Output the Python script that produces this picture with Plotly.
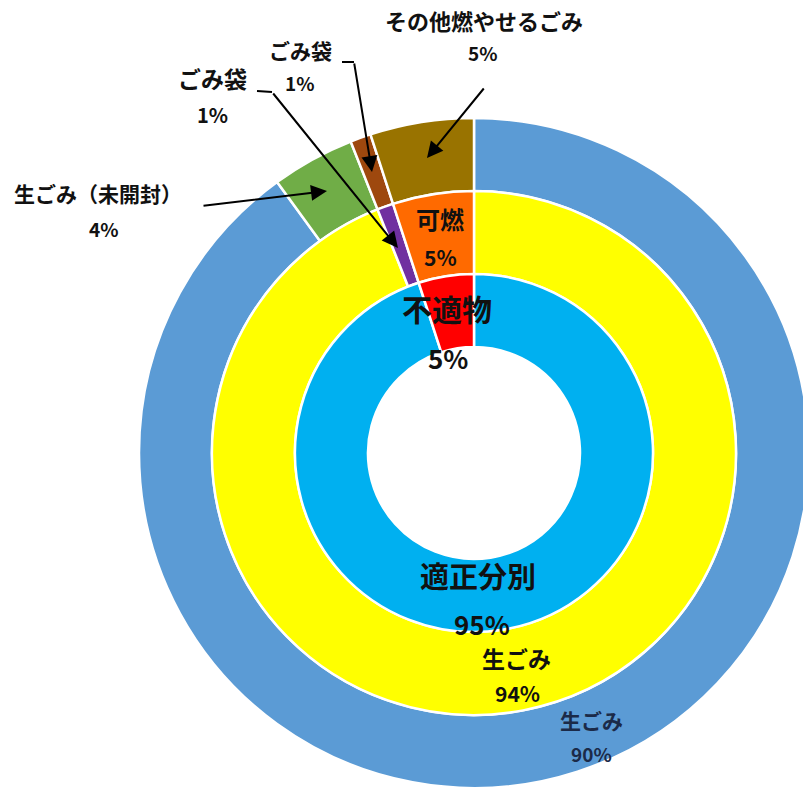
import plotly.graph_objects as go

# ---- data ----
inner_labels = ["適正分別", "不適物"]
inner_values = [95, 5]
middle_labels = ["生ごみ", "ごみ袋", "可燃"]
middle_values = [94, 1, 5]
outer_labels = ["生ごみ", "生ごみ（未開封）", "ごみ袋", "その他燃やせるごみ"]
outer_values = [90, 4, 1, 5]

inner_colors = ["#00B0F0", "#FF0000"]
middle_colors = ["#FFFF00", "#7030A0", "#FF6A00"]
outer_colors = ["#5B9BD5", "#70AD47", "#9E480E", "#997300"]

W, H = 810, 789
CX, CY = 474, 453
R_OUT, R_MID, R_IN, R_HOLE = 335, 262, 179, 106


def dom(r):
    return dict(x=[(CX - r) / W, (CX + r) / W], y=[(H - CY - r) / H, (H - CY + r) / H])


def px(x, y):
    return x / W, 1 - y / H


fig = go.Figure()
for labels, values, colors, r, rin in [
    (outer_labels, outer_values, outer_colors, R_OUT, R_MID),
    (middle_labels, middle_values, middle_colors, R_MID, R_IN),
    (inner_labels, inner_values, inner_colors, R_IN, R_HOLE),
]:
    fig.add_trace(go.Pie(
        labels=labels, values=values, sort=False, direction="clockwise", rotation=0,
        hole=rin / r, domain=dom(r), textinfo="none", hoverinfo="label+percent",
        marker=dict(colors=colors, line=dict(color="white", width=2.5)),
        showlegend=False,
    ))

FONT = "Noto Sans CJK JP"
ann = []


def text(x, y, s, size, color="#111111", bold=True):
    xx, yy = px(x, y)
    ann.append(dict(x=xx, y=yy, xref="paper", yref="paper", showarrow=False,
                    text=f"<b>{s}</b>" if bold else s,
                    font=dict(family=FONT, size=size, color=color),
                    xanchor="center", yanchor="middle"))


def arrow(x0, y0, x1, y1):
    xx, yy = px(x1, y1)
    ann.append(dict(x=xx, y=yy, xref="paper", yref="paper", text="", showarrow=True,
                    ax=x0 - x1, ay=y0 - y1, axref="pixel", ayref="pixel",
                    arrowhead=2, arrowsize=1.6, arrowwidth=2, arrowcolor="#000000"))


pct = lambda v: f"{v}%"
# outer-ring labels (left/top, with arrows)
text(98, 193, outer_labels[1], 21)
text(104, 228, pct(outer_values[1]), 19)
text(212, 78, middle_labels[1], 23)
text(212, 115, pct(middle_values[1]), 20)
text(300, 50, outer_labels[2], 21)
text(300, 83, pct(outer_values[2]), 19)
text(484, 20, outer_labels[3], 22)
text(483, 53, pct(outer_values[3]), 19)

# in-ring labels
text(440, 218, middle_labels[2], 24)
text(440, 257, pct(middle_values[2]), 21)
text(447, 308, inner_labels[1], 30)
text(448, 357, pct(inner_values[1]), 26)
text(478, 575, inner_labels[0], 29)
text(482, 623, pct(inner_values[0]), 26)
text(516, 658, middle_labels[0], 23)
text(517, 693, pct(middle_values[0]), 21)
text(591, 720, outer_labels[0], 21, color="#1b2a48")
text(591, 753, pct(outer_values[0]), 19, color="#1b2a48")

# arrows
arrow(202, 206, 327, 191)
arrow(272, 92, 398, 248)
arrow(354, 62, 372, 172)
arrow(485, 87, 427, 158)

shapes = []
for (a, b, c, d) in [(257, 91, 272, 92), (342, 62, 354, 62)]:
    x0, y0 = px(a, b)
    x1, y1 = px(c, d)
    shapes.append(dict(type="line", xref="paper", yref="paper", x0=x0, y0=y0, x1=x1, y1=y1,
                       line=dict(color="#000000", width=2)))

fig.update_layout(
    width=W, height=H, margin=dict(l=0, r=0, t=0, b=0),
    paper_bgcolor="white", plot_bgcolor="white",
    annotations=ann, shapes=shapes,
)

fig.write_html("out.html", config={"displayModeBar": False},
               post_script="document.documentElement.style.overflow='hidden';document.body.style.margin='0';")
